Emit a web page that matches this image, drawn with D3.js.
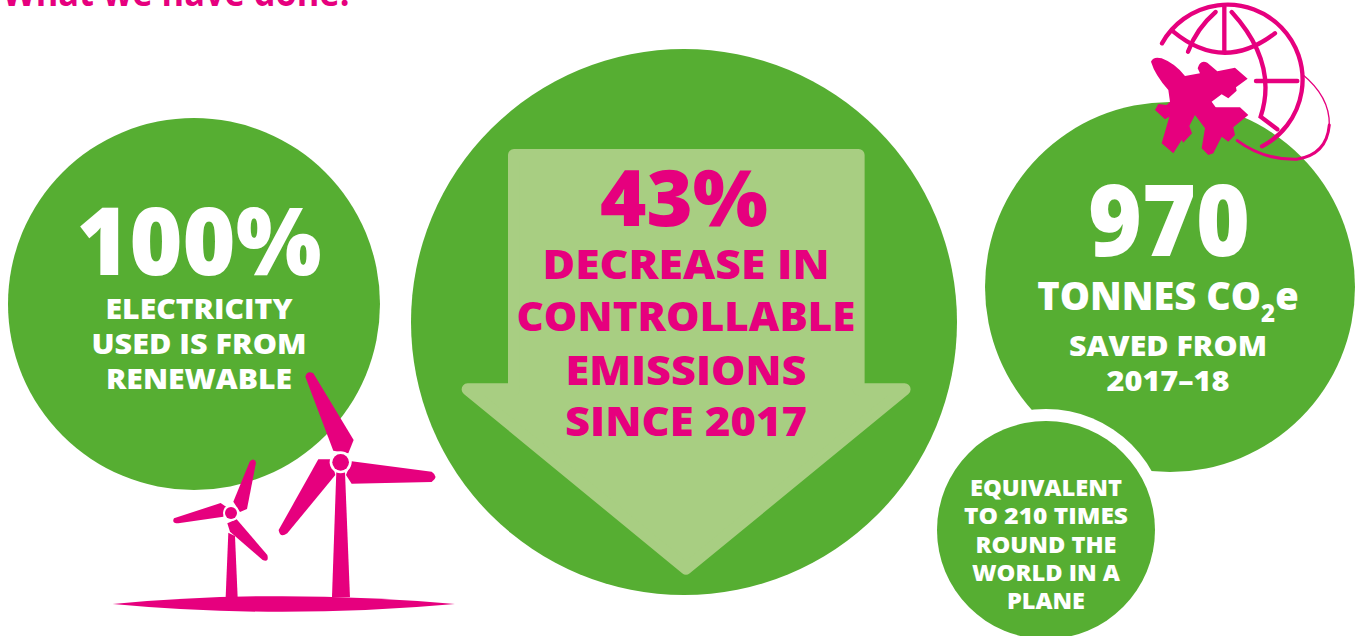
<!DOCTYPE html>
<html>
<head>
<meta charset="utf-8">
<script src="https://cdn.jsdelivr.net/npm/d3@7"></script>
<style>
  html, body { margin: 0; padding: 0; background: #fff; overflow: hidden; }
  text { font-family: "Open Sans", sans-serif; font-weight: 800; text-anchor: middle; }
</style>
</head>
<body>
<div id="chart"></div>
<script>
const title = "What we have done!";

// headline figures
const renewablePct = 100;
const decreasePct = 43;
const tonnesSaved = 970;

const renewableLines = ["ELECTRICITY", "USED IS FROM", "RENEWABLE"];
const decreaseLines = ["DECREASE IN", "CONTROLLABLE", "EMISSIONS", "SINCE 2017"];
const savedLines = ["SAVED FROM", "2017–18"];
const equivalentLines = ["EQUIVALENT", "TO 210 TIMES", "ROUND THE", "WORLD IN A", "PLANE"];

const green = "#56ae32", lightGreen = "#a8ce82", pink = "#e6007e";

const svg = d3.select("#chart").append("svg")
    .attr("width", 1363)
    .attr("height", 636);

function circle(cx, cy, r, fill) {
  svg.append("circle").attr("cx", cx).attr("cy", cy).attr("r", r).attr("fill", fill);
}

// textLength keeps each line to the width measured in the picture
function label(parent, str, x, y, size, width, fill) {
  return parent.append("text")
      .attr("x", x).attr("y", y)
      .attr("font-size", size)
      .attr("textLength", width)
      .attr("lengthAdjust", "spacingAndGlyphs")
      .attr("fill", fill)
      .text(str);
}

function block(lines, x, ys, size, widths, fill) {
  lines.forEach((l, i) => label(svg, l, x, ys[i], size, widths[i], fill));
}

// title, cut by the top of the picture
label(svg, title, 176, 6, 37, 347, pink).style("font-weight", 700);

// discs
circle(194, 304, 186, green);
circle(684, 322, 273, green);
circle(1170, 287, 185, green);
circle(1046, 530, 121, "#fff");
circle(1046, 530, 109, green);

// arrow, zoom-crop coordinates
svg.append("path")
    .attr("transform", "translate(440,130) scale(0.3333)")
    .attr("fill", lightGreen)
    .attr("stroke", lightGreen)
    .attr("stroke-width", 36)
    .attr("stroke-linejoin", "round")
    .attr("d", "M222,75 L1256,75 L1256,778 L1394,778 L738,1316 L83,778 L222,778 Z");

// left disc text
label(svg, renewablePct + "%", 199, 275, 94, 245, "#fff");
block(renewableLines, 199, [319, 354, 389], 29, [187, 215, 186], "#fff");

// centre text
label(svg, decreasePct + "%", 684, 226, 78, 168, pink);
block(decreaseLines, 686, [279, 331, 385, 436], 41, [287, 339, 241, 242], pink);

// right disc text
label(svg, String(tonnesSaved), 1169, 256, 99, 162, "#fff");
const co2 = svg.append("text")
    .attr("x", 1168).attr("y", 310)
    .attr("font-size", 38)
    .attr("fill", "#fff");
co2.append("tspan").text("TONNES CO");
co2.append("tspan").attr("font-size", 24).attr("dy", 12).text("2");
co2.append("tspan").attr("dy", -12).text("e");
block(savedLines, 1168, [356, 391], 29, [198, 123], "#fff");

// small disc text
block(equivalentLines, 1046, [496, 524, 553, 581, 609], 23.5, [152, 164, 141, 148, 78], "#fff");

// wind turbines
const turbines = svg.append("g")
    .attr("transform", "translate(100,360) scale(0.3333)")
    .attr("fill", pink);
[
  "M38,732 Q540,685 1065,732 Q540,779 38,732 Z",
  "M709,335 L735,335 L750,712 L696,712 Z",
  "M616,50 Q622,30 640,40 L761,240 L745,280 L700,272 Z",
  "M755,304 L995,335 Q1018,350 995,366 L755,371 L738,345 Z",
  "M655,298 L695,298 L706,345 L562,520 Q540,536 536,510 Z",
  "M385,518 L405,528 L413,712 L377,712 Z",
  "M449,305 Q462,290 468,308 L441,447 L420,456 L400,425 Z",
  "M222,475 L362,429 L378,440 L370,470 L235,490 Q214,490 222,475 Z",
  "M382,490 L410,478 L502,585 Q508,608 488,600 L390,515 Z"
].forEach(d => turbines.append("path").attr("d", d));
[[722, 307, 33, 25], [393, 459, 24, 18]].forEach(h => {
  turbines.append("circle").attr("cx", h[0]).attr("cy", h[1]).attr("r", h[2]).attr("fill", "#fff");
  turbines.append("circle").attr("cx", h[0]).attr("cy", h[1]).attr("r", h[3]);
});

// globe and plane
const icon = svg.append("g").attr("transform", "translate(1100,0) scale(0.3333)");
const globe = icon.append("g")
    .attr("fill", "none")
    .attr("stroke", pink)
    .attr("stroke-width", 13)
    .attr("stroke-linecap", "round");
[
  "M186,130 A225,225 0 1 1 486,439",
  "M220,95 Q370,219 525,100",
  "M373,22 L373,155",
  "M347,36 Q290,85 264,155",
  "M395,36 Q535,190 482,350 L532,388",
  "M468,243 L592,243"
].forEach(d => globe.append("path").attr("d", d));
globe.append("path")
    .attr("d", "M412,422 Q490,480 590,478 Q680,465 688,375")
    .attr("stroke-width", 9);
globe.append("path")
    .attr("d", "M688,375 Q690,290 606,222")
    .attr("stroke-width", 4);
icon.append("path")
    .attr("fill", pink)
    .attr("d", "M153,185 Q160,168 185,175 Q225,190 255,228 L300,220 L293,205 Q300,178 322,188 L352,214 L405,203 L443,236 L408,262 L410,272 L385,295 L365,283 L335,305 L347,322 L420,322 L445,345 L400,382 L405,405 L385,425 L365,410 L340,460 L325,465 L305,445 L315,385 L285,345 L268,378 L276,400 L250,428 L245,420 L220,460 L185,430 L208,350 L195,358 L165,330 L175,312 L200,315 L210,305 L205,270 Q165,225 153,185 Z");
</script>
</body>
</html>
